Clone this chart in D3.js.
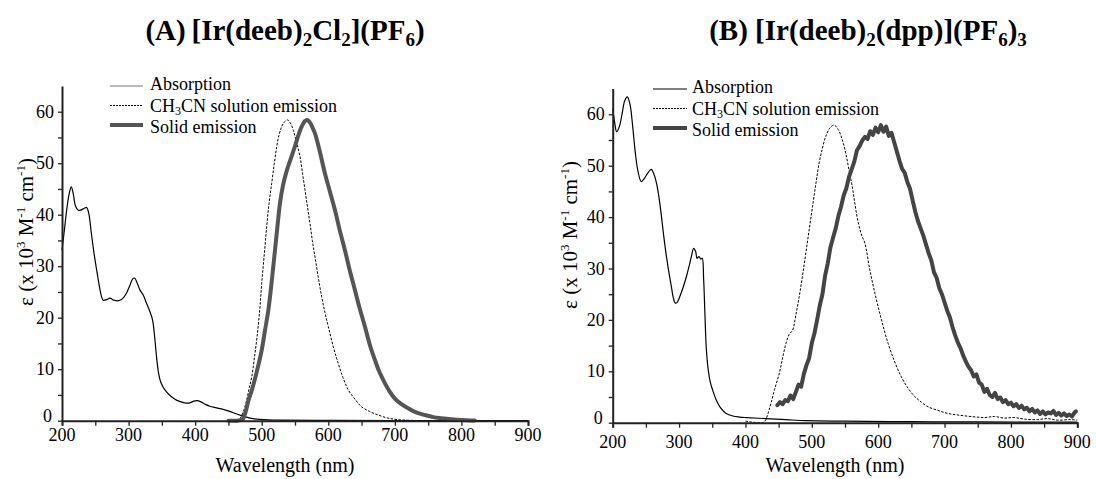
<!DOCTYPE html>
<html>
<head>
<meta charset="utf-8">
<script src="https://cdn.jsdelivr.net/npm/d3@7"></script>
<style>
  body { margin: 0; background: #fff; }
  svg { display: block; }
  svg text { font-family: "Liberation Serif", "Times New Roman", serif; }
</style>
</head>
<body>
<svg id="chart" width="1096" height="479"></svg>
<script>
// axis ticks
const xTicks = [200, 300, 400, 500, 600, 700, 800, 900];
const yTicks = [0, 10, 20, 30, 40, 50, 60];
const legendLabels = ["Absorption", "CH3CN solution emission", "Solid emission"];

// panel A: [Ir(deeb)2Cl2](PF6)  -- [wavelength nm, eps]
const absA = [[200,33.1],[204,37.5],[207,40.9],[211,44.2],[214,45.4],[217,44.0],[220,41.8],[224,40.9],[228,40.9],[233,41.2],[237,41.4],[240,40.4],[244,36.5],[248,32.6],[252,29.3],[256,26.2],[259,24.3],[262,23.4],[267,23.5],[272,23.8],[278,23.4],[285,23.3],[291,23.7],[297,24.8],[302,26.3],[306,27.5],[309,27.7],[313,26.7],[317,25.4],[322,24.4],[327,22.8],[332,21.2],[336,19.6],[339,16.5],[342,12.4],[345,9.3],[348,7.6],[352,6.5],[357,5.6],[364,4.7],[372,4.0],[380,3.6],[387,3.4],[393,3.5],[398,3.8],[403,3.9],[408,3.7],[415,3.2],[422,2.8],[432,2.5],[442,2.2],[452,1.8],[460,1.4],[467,1.1],[477,0.7],[487,0.4],[497,0.25],[510,0.15],[526,0.1],[600,0.05],[700,0.03],[900,0.02]];
const solA = [[450,0],[462,0.1],[468,0.6],[472,1.6],[477,3.8],[481,6.2],[485,8.5],[489,12.2],[493,16.3],[497,21.5],[500,26.7],[504,32.5],[507.5,37.7],[511,42.2],[515,46.1],[519,50.0],[522.5,53.2],[526,55.5],[530,57.1],[534,58.0],[539,58.4],[543,57.8],[547.5,56.4],[552,54.2],[557.5,51.3],[561,48.3],[565,44.8],[569,41.3],[572.5,38.3],[576,35.0],[580,31.8],[585,27.8],[590,24.1],[595,21.0],[600,18.3],[607,14.6],[615,11.1],[622,8.4],[630,6.0],[640,4.2],[650,2.7],[662,1.8],[675,1.1],[690,0.5],[705,0.2],[730,0.05],[750,0.0]];
const solidA = [[450,0],[462,0],[468,0.1],[472,0.4],[476,1.8],[480,3.9],[485,5.9],[490,8.2],[495,10.8],[500,13.7],[505,17.6],[510,21.5],[515,27.0],[520,33.2],[524,38.2],[527.5,42.3],[532,45.7],[537.5,48.5],[544,51.0],[550,53.3],[555,55.4],[560,57.1],[565,58.2],[568,58.4],[572,58.0],[576,57.0],[580,55.8],[587,52.4],[595,48.0],[602,44.7],[610,40.9],[617,37.1],[625,33.1],[632,29.3],[640,25.4],[647,21.9],[655,18.3],[662,14.9],[670,11.8],[677,9.4],[685,7.3],[692,5.7],[700,4.3],[710,3.2],[720,2.4],[732,1.6],[745,1.1],[758,0.7],[770,0.5],[785,0.3],[800,0.15],[820,0.05]];

// panel B: [Ir(deeb)2(dpp)](PF6)3
const absB = [[200,61.2],[203,58.4],[206,56.6],[210,57.6],[214,60.0],[218,62.6],[222,63.4],[226,62.0],[230,57.8],[234,52.6],[238,49.0],[243,46.9],[248,47.6],[253,48.6],[258,49.3],[262,48.4],[266,46.6],[270,43.6],[273.5,40.1],[277,36.2],[281,32.3],[285,29.0],[288.5,26.4],[291,24.5],[294,23.3],[297,23.4],[301,24.5],[306,26.3],[311,28.4],[315,30.4],[318.5,32.3],[322,33.9],[325,33.3],[327,32.0],[330,32.3],[333,31.8],[335,32.0],[337,28.0],[339,21.0],[341,14.5],[344,10.2],[347,7.9],[351,6.2],[356,4.4],[362,3.0],[371,1.8],[381,1.3],[391,1.1],[401,1.0],[431,0.8],[461,0.6],[491,0.4],[550,0.3],[650,0.2],[750,0.15],[900,0.1]];
const solB = [[400,0.3],[410,0.1],[420,0.0],[428,0.1],[431,0.7],[435,2.2],[438.5,3.8],[444,6.5],[451,9.6],[456,12.6],[461,15.4],[466,17.2],[471,18.0],[476,21.0],[481,24.5],[486,28.6],[491,33.0],[496,37.5],[501,42.0],[506,46.4],[511,50.5],[516,53.4],[521,55.7],[527,57.3],[533.5,57.9],[540,57.0],[546,55.0],[551,52.5],[556,49.2],[561,45.9],[565,42.5],[570,38.9],[575,36.5],[580,34.9],[587,30.0],[595,25.2],[605,20.0],[615,15.4],[625,11.8],[635,8.9],[645,6.7],[655,5.1],[665,4.0],[675,3.1],[690,2.4],[705,1.8],[720,1.5],[740,1.2],[760,1.0],[775,1.2],[790,0.9],[805,1.0],[820,0.7],[840,0.6],[855,0.8],[870,0.5],[890,0.6],[900,0.5]];
const solidB = [[448,3.4],[452,4.0],[456,3.6],[460,4.4],[464,4.2],[468,5.3],[472,4.6],[476,6.0],[480,7.4],[484,7.0],[488,9.5],[492,11.2],[496,12.6],[500,15.5],[504,17.4],[508,20.0],[512,22.8],[516,25.0],[520,28.6],[524,31.0],[528,34.1],[532,36.0],[536,37.8],[540,40.2],[544,42.0],[548,44.2],[552,45.6],[556,47.8],[560,49.3],[564,50.8],[568,53.0],[572,53.8],[576,54.9],[580,55.6],[584,55.2],[588,56.7],[592,56.0],[596,57.4],[600,56.5],[604,57.9],[608,56.6],[612,57.6],[616,55.8],[620,56.4],[624,54.6],[628,52.8],[632,51.0],[636,49.4],[640,48.6],[644,46.8],[648,45.5],[652,43.2],[656,41.0],[660,39.2],[664,37.8],[668,36.4],[672,34.7],[676,33.0],[680,31.6],[684,29.3],[688,28.2],[692,26.2],[696,25.0],[700,23.4],[704,21.8],[708,20.5],[712,18.6],[716,17.0],[720,15.6],[724,14.5],[728,13.1],[732,11.9],[736,10.9],[740,10.2],[744,9.0],[748,9.4],[752,7.8],[756,7.4],[760,6.0],[764,6.6],[768,5.4],[772,5.0],[776,5.8],[780,4.6],[784,4.9],[788,4.0],[792,4.4],[796,3.6],[800,3.9],[804,3.2],[808,3.6],[812,2.9],[816,3.3],[820,2.6],[824,2.9],[828,2.2],[832,2.7],[836,2.0],[840,2.4],[844,1.7],[848,2.2],[852,1.6],[856,2.0],[860,1.8],[864,2.3],[868,1.5],[872,1.9],[876,1.4],[880,1.8],[884,1.3],[888,1.6],[892,1.2],[896,2.0],[898,2.2]];

const svg = d3.select("#chart");

// title pieces: [text, is subscript]
const titleA = [["(A)\u2009[Ir(deeb)",0],["2",1],["Cl",0],["2",1],["](PF",0],["6",1],[")",0]];
const titleB = [["(B) [Ir(deeb)",0],["2",1],["(dpp)](PF",0],["6",1],[")",0],["3",1]];

function drawTitle(parts, cx, y) {
    const t = svg.append("text")
        .attr("x", cx).attr("y", y)
        .attr("text-anchor", "middle")
        .attr("font-size", 29).attr("font-weight", "bold");
    let down = false;
    parts.forEach(p => {
        const ts = t.append("tspan").text(p[0]);
        if (p[1] && !down) { ts.attr("dy", 6).attr("font-size", 19); down = true; }
        else if (p[1]) { ts.attr("font-size", 19); }
        else if (down) { ts.attr("dy", -6); down = false; }
    });
}

function drawPanel(cfg) {
    const x = d3.scaleLinear().domain([200, 900]).range([cfg.left, cfg.right]);
    const y = d3.scaleLinear().domain([0, 65]).range([cfg.bottom, cfg.bottom - 65 * cfg.perUnit]);
    const g = svg.append("g");

    const line = d3.line().x(d => x(d[0])).y(d => y(d[1])).curve(d3.curveCatmullRom);
    const noisy = d3.line().x(d => x(d[0])).y(d => y(d[1]));

    // curves
    g.append("path").datum(cfg.abs).attr("d", line)
        .attr("fill", "none").attr("stroke", "#000").attr("stroke-width", 1.2);
    g.append("path").datum(cfg.sol).attr("d", line)
        .attr("fill", "none").attr("stroke", "#000").attr("stroke-width", 1)
        .attr("stroke-dasharray", "2.5,1.5");
    g.append("path").datum(cfg.solid).attr("d", cfg.noisySolid ? noisy : line)
        .attr("fill", "none").attr("stroke", cfg.solidColor).attr("stroke-width", 4)
        .attr("stroke-linejoin", "round").attr("stroke-linecap", "round");

    // x axis
    const xAxis = g.append("g").attr("transform", `translate(0,${cfg.bottom})`);
    xAxis.call(d3.axisBottom(x).tickValues(d3.range(200, 901, 50)).tickSize(5).tickFormat(""));
    xAxis.selectAll(".domain").attr("stroke", "#222").attr("stroke-width", 2);
    xAxis.selectAll(".tick line").attr("stroke", "#222").attr("stroke-width", 1.3);
    g.selectAll(".xlab").data(xTicks).enter().append("text")
        .attr("x", d => x(d)).attr("y", cfg.bottom + cfg.xLabOff)
        .attr("text-anchor", "middle").attr("font-size", 18).text(d => d);

    // y axis
    const yAxis = g.append("g").attr("transform", `translate(${cfg.left},0)`);
    yAxis.call(d3.axisLeft(y).tickValues(d3.range(0, 61, 5)).tickSize(4).tickFormat("").tickSizeOuter(0));
    yAxis.selectAll(".domain").attr("stroke", "#222").attr("stroke-width", 2);
    yAxis.selectAll(".tick line").attr("stroke", "#222").attr("stroke-width", 1.3);
    g.selectAll(".ylab").data(yTicks).enter().append("text")
        .attr("x", d => cfg.left - (d === 0 ? 10 : 8)).attr("y", d => y(d) + (d === 0 ? 1 : 6))
        .attr("text-anchor", "end").attr("font-size", 18).text(d => d);

    // axis titles
    g.append("text").attr("x", cfg.xTitleX).attr("y", cfg.bottom + cfg.xTitleOff)
        .attr("text-anchor", "middle").attr("font-size", 20).text("Wavelength (nm)");
    const yt = g.append("text")
        .attr("transform", `translate(${cfg.yTitleX},${cfg.yTitleY}) rotate(-90)`)
        .attr("text-anchor", "middle").attr("font-size", 21);
    yt.append("tspan").text("\u03b5  (x 10");
    yt.append("tspan").attr("dy", -8).attr("font-size", 13).text("3");
    yt.append("tspan").attr("dy", 8).text(" M");
    yt.append("tspan").attr("dy", -8).attr("font-size", 13).text("-1");
    yt.append("tspan").attr("dy", 8).text(" cm");
    yt.append("tspan").attr("dy", -8).attr("font-size", 13).text("-1");
    yt.append("tspan").attr("dy", 8).text(")");

    // legend
    const lg = g.append("g");
    legendLabels.forEach((lab, i) => {
        const by = cfg.legY + i * 21.5;
        const ly = by - [4, 6, 8][i];
        const ln = lg.append("line")
            .attr("x1", cfg.legX1).attr("x2", cfg.legX2).attr("y1", ly).attr("y2", ly);
        if (i === 0) ln.attr("stroke", cfg.legFirstColor).attr("stroke-width", 1.2);
        if (i === 1) ln.attr("stroke", "#000").attr("stroke-width", 1).attr("stroke-dasharray", "2,1");
        if (i === 2) ln.attr("stroke", cfg.solidColor).attr("stroke-width", 4);
        const t = lg.append("text").attr("x", cfg.legText).attr("y", by).attr("font-size", 18);
        if (i === 1) {
            t.append("tspan").text("CH");
            t.append("tspan").attr("dy", 3).attr("font-size", 12).text("3");
            t.append("tspan").attr("dy", -3).text("CN solution emission");
        } else {
            t.text(lab);
        }
    });
}

drawTitle(titleA, 285, 40);
drawTitle(titleB, 868, 40);

drawPanel({
    left: 62, right: 528, bottom: 420.7, perUnit: 5.15,
    abs: absA, sol: solA, solid: solidA, noisySolid: false, solidColor: "#555",
    xLabOff: 20, xTitleX: 285, xTitleOff: 51, yTitleX: 33, yTitleY: 232,
    legX1: 110, legX2: 143, legText: 150, legY: 90, legFirstColor: "#777"
});
drawPanel({
    left: 612.7, right: 1077.3, bottom: 422.7, perUnit: 5.14,
    abs: absB, sol: solB, solid: solidB, noisySolid: true, solidColor: "#444",
    xLabOff: 25, xTitleX: 835, xTitleOff: 49, yTitleX: 577, yTitleY: 235,
    legX1: 653, legX2: 687, legText: 692, legY: 93, legFirstColor: "#000"
});
</script>
</body>
</html>
